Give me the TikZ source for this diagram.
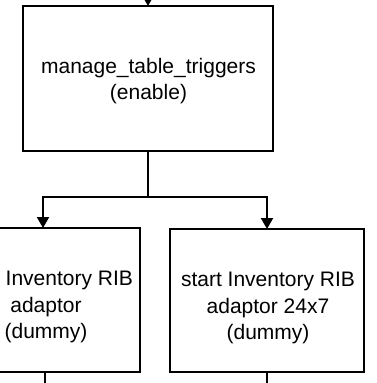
\documentclass[tikz,border=0pt]{standalone}
\usepackage{fontspec}
\setmainfont{Liberation Sans}
\usetikzlibrary{arrows.meta}
\begin{document}
\begin{tikzpicture}[x=1pt,y=-1pt,
  box/.style={draw,line width=1.9pt,rectangle,inner sep=0pt,outer sep=0pt},
  lbl/.style={font=\fontsize{21}{26.5}\selectfont,align=center,inner sep=0pt},
  conn/.style={line width=1.9pt},
  arr/.style={conn,-{Triangle[length=11pt,width=12pt]}}]
\useasboundingbox (0,0) rectangle (376,383);
\clip (0,0) rectangle (376,383);
\node[box,minimum width=250pt,minimum height=145pt] (top) at (148,78.5) {};
\node[lbl] (toptext) at (148.5,81) {manage\_table\_triggers\\(enable)};
\node[box,minimum width=194pt,minimum height=144pt] (left) at (43,300) {};
\node[lbl] (lefttext) at (46,307) {\phantom{start }Inventory RIB\\adaptor\\(dummy)};
\node[box,minimum width=194pt,minimum height=143pt] (right) at (267,300.5) {};
\node[lbl] (righttext) at (268,308) {start Inventory RIB\\adaptor 24x7\\(dummy)};
\coordinate (in) at (148,-2);
\draw[arr] (in) -- (top.north);
\draw[arr] (top.south) -- ++(0,46) -| (left.north);
\draw[arr] (top.south) -- ++(0,46) -| (right.north);
\coordinate (lout) at (45,390);
\coordinate (rout) at (267,390);
\draw[conn] (left.south -| lout) -- (lout);
\draw[conn] (right.south) -- (rout);
\end{tikzpicture}
\end{document}
